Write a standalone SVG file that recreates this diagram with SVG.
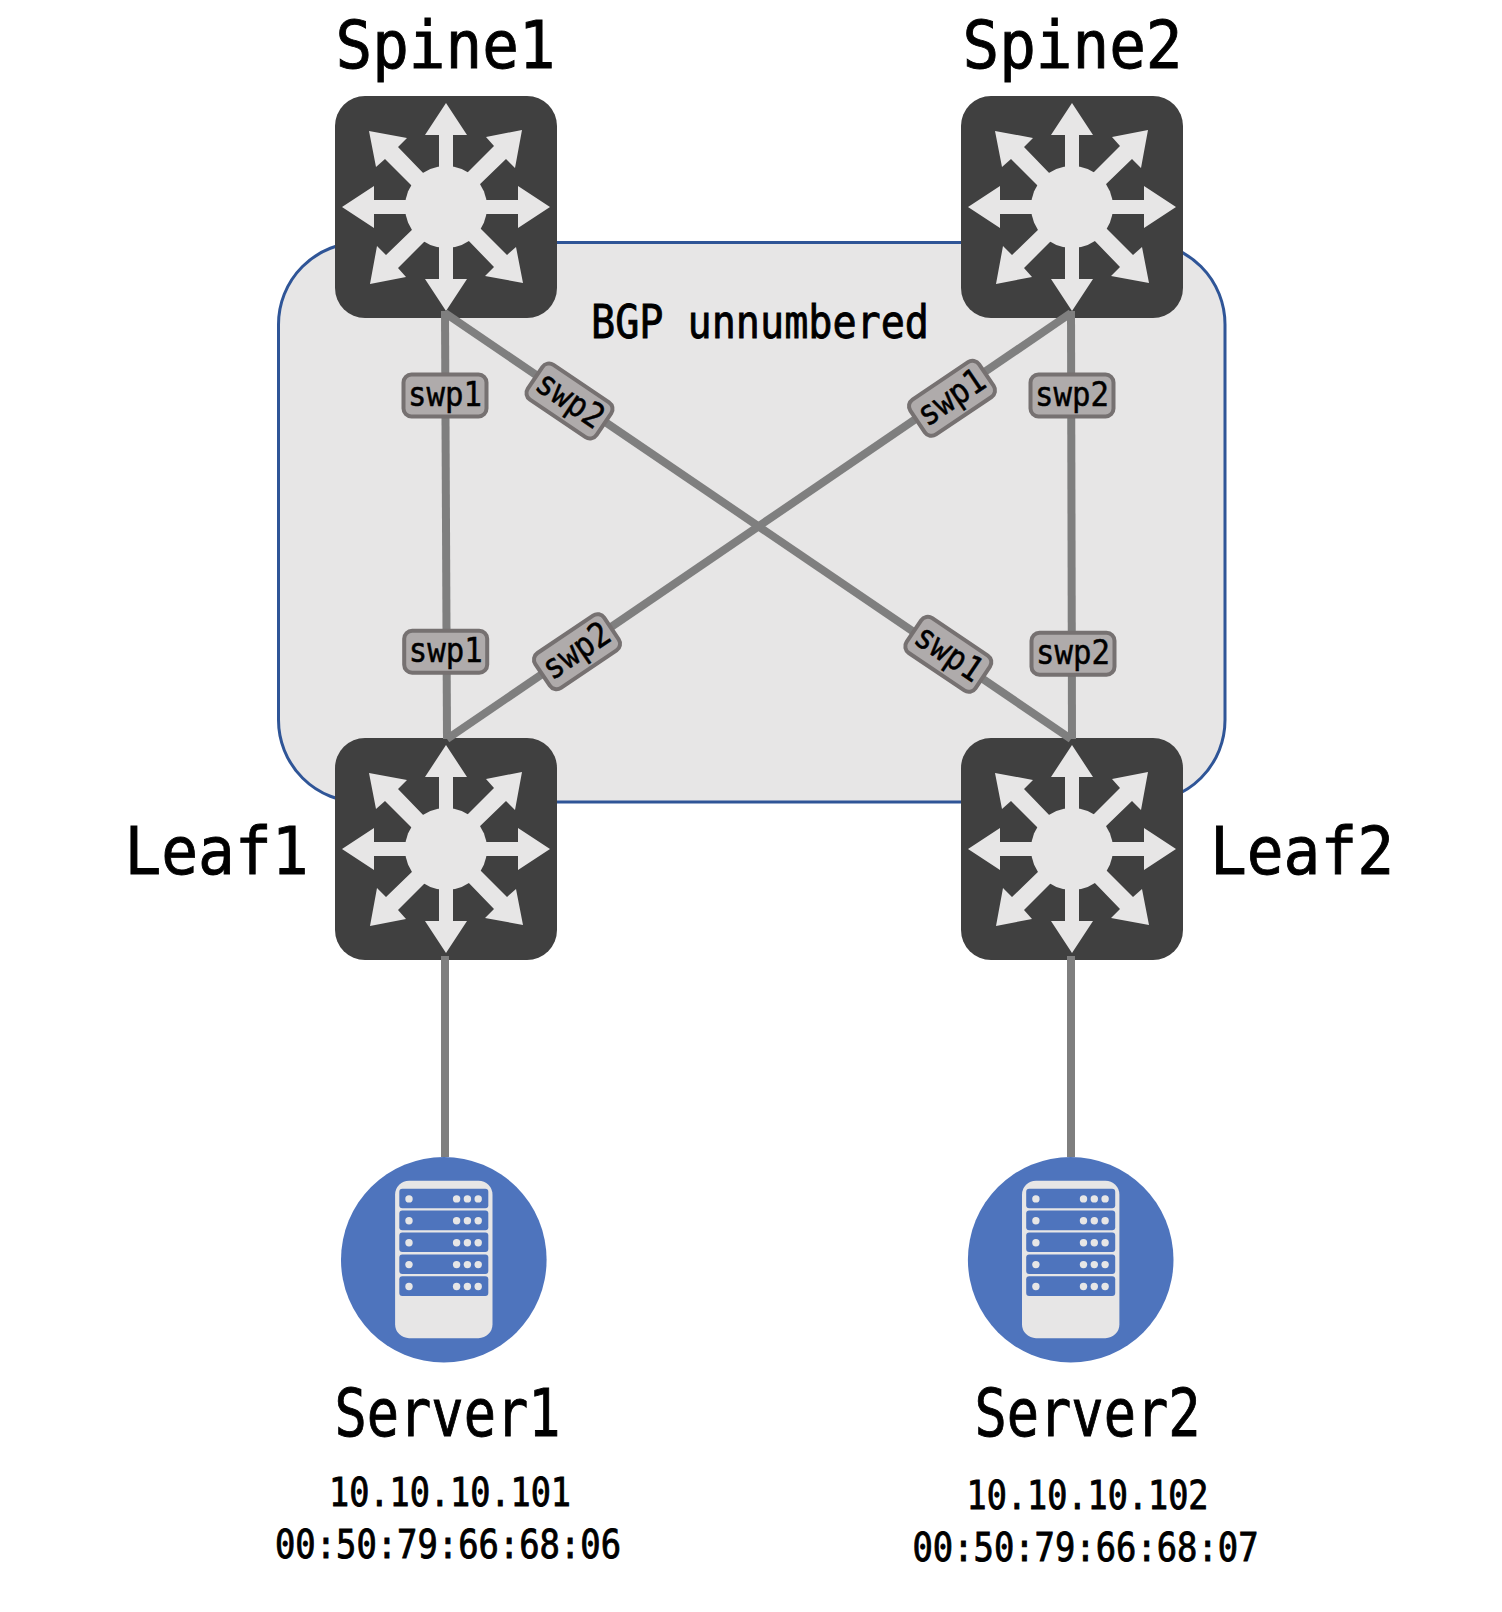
<svg xmlns="http://www.w3.org/2000/svg" width="1502" height="1612" viewBox="0 0 1502 1612">
<style>
text{font-family:"DejaVu Sans Mono","Liberation Mono",monospace;fill:#000;stroke:#000;text-anchor:middle}
.big{font-size:66px;stroke-width:.9}
.mid{font-size:39px;stroke-width:.9}
.bgp{font-size:47px;stroke-width:.9}
.lab{font-size:34px;stroke-width:.5}
.cn{stroke:#7f7f7f;stroke-width:8;fill:none}
.pill{fill:#afabab;stroke:#767171;stroke-width:4}
.tile{fill:#404040}
.lt{fill:#e7e6e6}
.blue{fill:#4e74bd}
</style>
<defs>
<g id="up"><path class="lt" d="M-7,-38L-7,-72L-21,-72L0,-104L21,-72L7,-72L7,-38Z"/></g>
<g id="ne"><path class="lt" d="M18,-31L48,-61L40,-70L76,-77L69,-39L60,-48L30,-19Z"/></g>
<g id="switch">
<rect class="tile" x="-111" y="-111" width="222" height="222" rx="30"/>
<circle class="lt" r="41"/>
<use href="#up"/><use href="#up" transform="rotate(90)"/><use href="#up" transform="rotate(180)"/><use href="#up" transform="rotate(270)"/>
<use href="#ne"/><use href="#ne" transform="rotate(90)"/><use href="#ne" transform="rotate(180)"/><use href="#ne" transform="rotate(270)"/>
</g>
<g id="slot">
<rect class="blue" x="-44.5" y="0" width="89" height="19.6" rx="3"/>
<circle class="lt" cx="-34.8" cy="10.2" r="3.7"/><circle class="lt" cx="12.8" cy="10.2" r="3.7"/><circle class="lt" cx="23.6" cy="10.2" r="3.7"/><circle class="lt" cx="34.4" cy="10.2" r="3.7"/>
</g>
<g id="server">
<circle class="blue" r="102.8"/>
<rect class="lt" x="-48.7" y="-79" width="97.4" height="157.5" rx="14"/>
<use href="#slot" y="-71"/><use href="#slot" y="-49.1"/><use href="#slot" y="-27.2"/><use href="#slot" y="-5.3"/><use href="#slot" y="16.6"/>
</g>
<rect id="pill" class="pill" x="-41.5" y="-21" width="83" height="42" rx="8"/>
</defs>

<g id="bgp-group">
<rect x="278.5" y="242.5" width="946.5" height="559.5" rx="82" fill="#e7e6e6" stroke="#2f5597" stroke-width="3"/>
<text class="bgp" x="760" y="338" textLength="338" lengthAdjust="spacingAndGlyphs">BGP unnumbered</text>
</g>

<g id="Spine1"><use href="#switch" x="446" y="207"/><text class="big" x="445.5" y="68" textLength="220" lengthAdjust="spacingAndGlyphs">Spine1</text></g>
<g id="Spine2"><use href="#switch" x="1072" y="207"/><text class="big" x="1072.5" y="68" textLength="220" lengthAdjust="spacingAndGlyphs">Spine2</text></g>
<g id="Leaf1"><use href="#switch" x="446" y="849"/><text class="big" x="216.5" y="874" textLength="184" lengthAdjust="spacingAndGlyphs">Leaf1</text></g>
<g id="Leaf2"><use href="#switch" x="1072" y="849"/><text class="big" x="1302" y="874" textLength="184" lengthAdjust="spacingAndGlyphs">Leaf2</text></g>
<g id="Server1"><use href="#server" x="443.8" y="1259.7"/>
<text class="big" x="447.5" y="1436" textLength="226" lengthAdjust="spacingAndGlyphs">Server1</text>
<text class="mid" x="450" y="1505.5" textLength="242" lengthAdjust="spacingAndGlyphs">10.10.10.101</text>
<text class="mid" x="448" y="1558" textLength="346" lengthAdjust="spacingAndGlyphs">00:50:79:66:68:06</text></g>
<g id="Server2"><use href="#server" x="1070.7" y="1259.7"/>
<text class="big" x="1087.5" y="1436" textLength="226" lengthAdjust="spacingAndGlyphs">Server2</text>
<text class="mid" x="1087.5" y="1509" textLength="242" lengthAdjust="spacingAndGlyphs">10.10.10.102</text>
<text class="mid" x="1085.5" y="1561" textLength="346" lengthAdjust="spacingAndGlyphs">00:50:79:66:68:07</text></g>

<g id="connectors">
<line class="cn" x1="445" y1="311" x2="447" y2="739"/>
<line class="cn" x1="445" y1="313" x2="1071" y2="739"/>
<line class="cn" x1="1071" y1="313" x2="447" y2="739"/>
<line class="cn" x1="1071" y1="311" x2="1072" y2="739"/>
<line class="cn" x1="445" y1="956" x2="445" y2="1157"/>
<line class="cn" x1="1071" y1="956" x2="1071" y2="1157"/>
</g>

<g id="labels">
<g transform="translate(445,395.5)"><use href="#pill"/><text class="lab" y="10" textLength="74" lengthAdjust="spacingAndGlyphs">swp1</text></g>
<g transform="translate(569.5,401) rotate(34)"><use href="#pill"/><text class="lab" y="10" textLength="74" lengthAdjust="spacingAndGlyphs">swp2</text></g>
<g transform="translate(445.7,651.7)"><use href="#pill"/><text class="lab" y="10" textLength="74" lengthAdjust="spacingAndGlyphs">swp1</text></g>
<g transform="translate(577,651.7) rotate(-34)"><use href="#pill"/><text class="lab" y="10" textLength="74" lengthAdjust="spacingAndGlyphs">swp2</text></g>
<g transform="translate(952,398.3) rotate(-34)"><use href="#pill"/><text class="lab" y="10" textLength="74" lengthAdjust="spacingAndGlyphs">swp1</text></g>
<g transform="translate(1072,395.5)"><use href="#pill"/><text class="lab" y="10" textLength="74" lengthAdjust="spacingAndGlyphs">swp2</text></g>
<g transform="translate(948.3,654.3) rotate(34)"><use href="#pill"/><text class="lab" y="10" textLength="74" lengthAdjust="spacingAndGlyphs">swp1</text></g>
<g transform="translate(1073,653.7)"><use href="#pill"/><text class="lab" y="10" textLength="74" lengthAdjust="spacingAndGlyphs">swp2</text></g>
</g>
</svg>
